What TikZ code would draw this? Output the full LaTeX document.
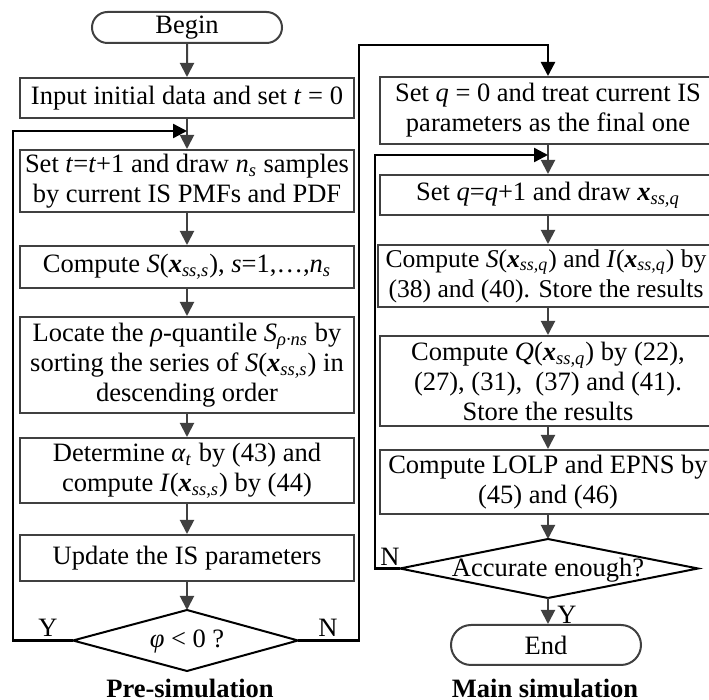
\documentclass[tikz,border=0pt]{standalone}
\usepackage{fontspec}
\usepackage{amsmath}
\setmainfont{Liberation Serif}
\usetikzlibrary{arrows.meta,shapes.misc}
\definecolor{boxgray}{HTML}{404040}
\newcommand{\vx}{\textbf{\textit{x}}}
\newcommand{\sbs}[1]{\textsubscript{\textit{#1}}}
\newcommand{\fs}{\fontsize{13.25pt}{15pt}\selectfont}
\tikzset{
  box/.style={draw=boxgray, line width=1pt, align=center, inner sep=0pt, font=\fs, minimum width=167pt},
  rbox/.style={box, minimum width=168pt},
  term/.style={draw=boxgray, line width=1pt, rounded rectangle, inner sep=0pt, font=\fs, minimum width=95pt},
  diaedge/.style={draw=black, line width=1pt, line join=miter},
  arr/.style={-{Triangle[width=7pt,length=7pt]}, draw=boxgray, line width=1pt},
  loopline/.style={-{Triangle[width=7pt,length=7pt]}, draw=black, line width=1.2pt},
  lbl/.style={font=\fs, inner sep=0pt},
  captext/.style={font=\fs\bfseries, inner sep=0pt}
}
\begin{document}
\begin{tikzpicture}[x=0.5pt,y=-0.5pt]
\useasboundingbox (0,0) rectangle (709,700);
% left column
\node[term, minimum height=15.5pt] (begin) at (187,27.5) {Begin};
\node[box, minimum height=20pt] (input) at (187,98) {Input initial data and set \textit{t} = 0};
\node[box, minimum height=31pt] (sett) at (187,181) {Set \textit{t}=\textit{t}+1 and draw \textit{n}\sbs{s} samples\\by current IS PMFs and PDF};
\node[box, minimum height=21pt] (comps) at (187,267) {Compute \textit{S}(\vx\sbs{ss,s}), \textit{s}=1,\ldots,\textit{n}\sbs{s}};
\node[box, minimum height=48pt] (locate) at (187,365) {Locate the \textit{ρ}-quantile \textit{S}\sbs{ρ·ns} by\\sorting the series of \textit{S}(\vx\sbs{ss,s}) in\\descending order};
\node[box, minimum height=32.5pt] (determ) at (187,470.5) {Determine \textit{α}\sbs{t} by (43) and\\compute \textit{I}(\vx\sbs{ss,s}) by (44)};
\node[box, minimum height=23pt] (update) at (187,558) {Update the IS parameters};
% left decision
\coordinate (phin) at (187,610);
\coordinate (phis) at (187,671);
\coordinate (phiw) at (73,640.5);
\coordinate (phie) at (298,640.5);
\draw[diaedge] (phin) -- (phie) -- (phis) -- (phiw) -- cycle;
\node[lbl] (phi) at (187,642) {\textit{φ} < 0 ?};
\node[lbl] (ly) at (48,628) {Y};
\node[lbl] (ln) at (328,628) {N};
\node[captext] (pre) at (190,688) {Pre-simulation};
% right column
\node[rbox, minimum height=33.5pt] (setq) at (548,110.5) {Set \textit{q} = 0 and treat current IS\\parameters as the final one};
\node[rbox, minimum height=20pt] (setq1) at (548,195) {Set \textit{q}=\textit{q}+1 and draw \vx\sbs{ss,q}};
\node[rbox, minimum height=31pt, font=\fontsize{12.8pt}{15pt}\selectfont] (compsi) at (546,276) {Compute \textit{S}(\vx\sbs{ss,q}) and \textit{I}(\vx\sbs{ss,q}) by\\(38) and (40). Store the results};
\node[rbox, minimum height=45pt] (compq) at (548,381) {Compute \textit{Q}(\vx\sbs{ss,q}) by (22),\\(27), (31),\enspace(37) and (41).\\Store the results};
\node[rbox, minimum height=32pt] (lolp) at (548,482) {Compute LOLP and EPNS by\\(45) and (46)};
% right decision
\coordinate (accn) at (548,539);
\coordinate (accs) at (548,598);
\coordinate (accw) at (400,568.5);
\coordinate (acce) at (698,568.5);
\draw[diaedge] (accn) -- (acce) -- (accs) -- (accw) -- cycle;
\node[lbl] (acc) at (548,570) {Accurate enough?};
\node[term, minimum height=20pt] (end) at (546,645) {End};
\node[lbl] (rn) at (390,557) {N};
\node[lbl] (ry) at (567,615) {Y};
\node[captext] (main) at (545,688) {Main simulation};
% arrows left
\draw[arr] (begin) -- (input);
\draw[arr] (input) -- (sett);
\draw[arr] (sett) -- (comps);
\draw[arr] (comps) -- (locate);
\draw[arr] (locate) -- (determ);
\draw[arr] (determ) -- (update);
\draw[arr] (update) -- (phin);
% arrows right
\draw[arr] (setq) -- (setq1);
\draw[arr] (setq1) -- (setq1 |- compsi.north);
\draw[arr] (setq1 |- compsi.south) -- (compq);
\draw[arr] (compq) -- (lolp);
\draw[arr] (lolp) -- (accn);
\draw[arr] (accs) -- (accs |- end.north);
% loops
\coordinate (lj) at (187,131);
\coordinate (rj) at (548,155);
\draw[loopline] (phiw) -- (13,640.5) |- (lj);
\draw[loopline] (phie) -- (359,640.5) -- (359,45) -| (setq.north);
\draw[loopline] (accw) -- (375,568.5) |- (rj);
\end{tikzpicture}
\end{document}
